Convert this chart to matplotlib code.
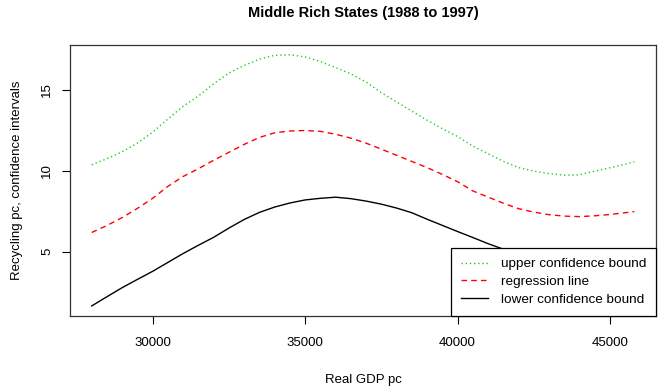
import numpy as np
import matplotlib
matplotlib.use('Agg')
import matplotlib.pyplot as plt

plt.rcParams['font.family'] = ['Liberation Sans', 'DejaVu Sans']

# values
gdp = [28000, 28500, 29000, 29500, 30000, 30500, 31000, 31500, 32000, 32500,
       33000, 33500, 34000, 34500, 35000, 35500, 36000, 36500, 37000, 37500,
       38000, 38500, 39000, 39500, 40000, 40500, 41000, 41500, 42000, 42500,
       43000, 43500, 44000, 44500, 45000, 45500, 45800]
upper = [10.37, 10.75, 11.18, 11.71, 12.39, 13.20, 13.99, 14.62, 15.38, 16.04,
         16.51, 16.90, 17.14, 17.17, 17.04, 16.75, 16.38, 15.99, 15.49, 14.83,
         14.26, 13.69, 13.13, 12.61, 12.12, 11.53, 11.06, 10.59, 10.20, 9.98,
         9.83, 9.73, 9.75, 9.98, 10.19, 10.41, 10.56]
fit = [6.19, 6.62, 7.11, 7.68, 8.30, 9.04, 9.65, 10.13, 10.65, 11.14,
       11.63, 12.06, 12.35, 12.46, 12.49, 12.44, 12.26, 12.02, 11.71, 11.34,
       10.96, 10.58, 10.20, 9.78, 9.33, 8.76, 8.38, 8.00, 7.66, 7.45,
       7.29, 7.20, 7.17, 7.22, 7.30, 7.41, 7.48]
lower = [1.65, 2.22, 2.78, 3.29, 3.79, 4.34, 4.89, 5.40, 5.89, 6.46,
         6.99, 7.43, 7.76, 8.01, 8.20, 8.30, 8.37, 8.28, 8.13, 7.94,
         7.70, 7.41, 7.01, 6.63, 6.25, 5.88, 5.50, 5.16, 4.87, 4.67,
         4.50, 4.42, 4.34, 4.21, 4.16, 4.17, 4.16]

fig = plt.figure(figsize=(6.64, 3.89), dpi=100)
ax = fig.add_axes([0.1054, 0.1877, 0.8826, 0.6973])

ax.plot(gdp, upper, color='#22cc22', linestyle=(0, (1, 2)), linewidth=1,
        label='upper confidence bound')
ax.plot(gdp, fit, color='red', linestyle=(0, (4, 3)), linewidth=1,
        label='regression line')
ax.plot(gdp, lower, color='black', linewidth=1, label='lower confidence bound')

# R style 4% padding
xr = gdp[-1] - gdp[0]
ax.set_xlim(gdp[0] - 0.04 * xr, gdp[-1] + 0.04 * xr)
ymin, ymax = min(lower), max(upper)
yr = ymax - ymin
ax.set_ylim(ymin - 0.04 * yr, ymax + 0.04 * yr)

ax.set_xticks([30000, 35000, 40000, 45000])
ax.set_yticks([5, 10, 15])
ax.tick_params(direction='out', length=6, width=0.8, labelsize=9.5)
ax.tick_params(axis='x', pad=9)
ax.tick_params(axis='y', pad=6)
for lab in ax.get_yticklabels():
    lab.set_rotation(90)
    lab.set_va('center')
for sp in ax.spines.values():
    sp.set_linewidth(0.9)
    sp.set_color('#333333')

ax.set_title('Middle Rich States (1988 to 1997)', fontsize=10.5,
             fontweight='bold', pad=20)
ax.set_xlabel('Real GDP pc', fontsize=9.5, labelpad=18)
ax.set_ylabel('Recycling pc, confidence intervals', fontsize=9.5, labelpad=13)

leg = ax.legend(loc='lower right', fontsize=9.7, borderaxespad=0,
                fancybox=False, framealpha=1, edgecolor='black',
                handlelength=2.0, handletextpad=0.9, labelspacing=0.4,
                borderpad=0.75)
leg.get_frame().set_linewidth(0.9)

fig.savefig('out.png', dpi=100)
